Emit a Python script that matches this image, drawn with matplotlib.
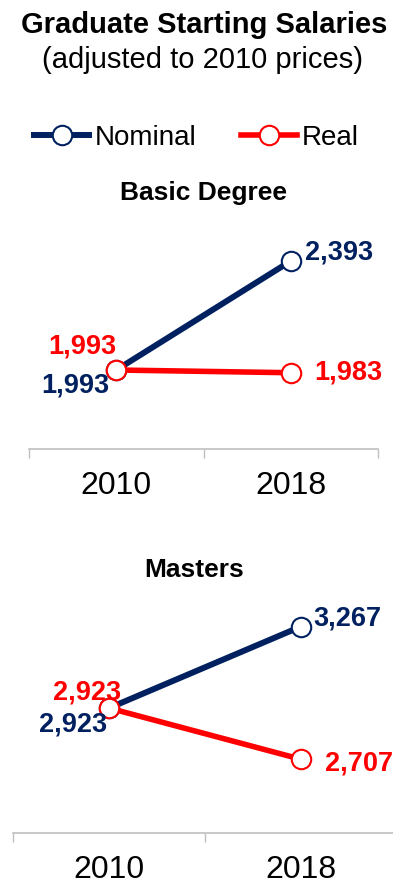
import matplotlib.pyplot as plt

plt.rcParams['font.family'] = ['Liberation Sans', 'DejaVu Sans']

years = ['2010', '2018']
basic_nominal = [1993, 2393]
basic_real = [1993, 1983]
masters_nominal = [2923, 3267]
masters_real = [2923, 2707]

navy = '#002060'
red = '#ff0000'
W, H = 393, 883

fig = plt.figure(figsize=(W / 100, H / 100), dpi=100)


def px_axes(left, top, width, bottom):
    return fig.add_axes([left / W, 1 - bottom / H, width / W, (bottom - top) / H])


def panel(ax, nominal, real, ylim, offsets):
    x = [0, 1]
    ax.plot(x, nominal, color=navy, lw=4.3, marker='o', ms=14, mfc='white',
            mec=navy, mew=1.5, solid_capstyle='butt', zorder=3)
    ax.plot(x, real, color=red, lw=4.0, marker='o', ms=14, mfc='white',
            mec=red, mew=1.5, solid_capstyle='butt', zorder=4)
    ax.set_xlim(-0.5, 1.5)
    ax.set_ylim(*ylim)
    # value labels (offsets in points)
    vals = [(0, nominal[0], navy), (1, nominal[1], navy), (0, real[0], red), (1, real[1], red)]
    for (xi, v, c), (dx, dy, ha) in zip(vals, offsets):
        ax.annotate(f'{v:,}', (xi, v), xytext=(dx, dy), textcoords='offset points',
                    ha=ha, va='center', color=c, fontsize=19.5, fontweight='bold', zorder=5)
    for s in ['top', 'left', 'right']:
        ax.spines[s].set_visible(False)
    ax.spines['bottom'].set_color('#bfbfbf')
    ax.spines['bottom'].set_linewidth(1.2)
    ax.set_yticks([])
    ax.set_xticks([-0.5, 0.5, 1.5])
    ax.set_xticklabels([])
    ax.tick_params(axis='x', which='major', length=6.5, width=1, color='#bfbfbf')
    ax.set_xticks([0, 1], minor=True)
    ax.set_xticklabels(years, minor=True, fontsize=23)
    ax.tick_params(axis='x', which='minor', length=0, pad=16)
    ax.patch.set_visible(False)


ax1 = px_axes(29, 215, 349, 449)
panel(ax1, basic_nominal, basic_real, (1703, 2562),
      [(-5, -11, 'right'), (10, 6, 'left'), (0, 17, 'right'), (17, 0, 'left')])

ax2 = px_axes(13, 595, 384, 833)
panel(ax2, masters_nominal, masters_real, (2396, 3400),
      [(-1, -12, 'right'), (9, 6, 'left'), (9, 11, 'right'), (17, -3, 'left')])

fig.text(204 / W, 1 - 25 / H, 'Graduate Starting Salaries', ha='center', va='center',
         fontsize=21, fontweight='bold')
fig.text(203 / W, 1 - 60 / H, '(adjusted to 2010 prices)', ha='center', va='center',
         fontsize=21)
fig.text(204 / W, 1 - 193 / H, 'Basic Degree', ha='center', va='center',
         fontsize=19, fontweight='bold')
fig.text(194 / W, 1 - 570 / H, 'Masters', ha='center', va='center',
         fontsize=19, fontweight='bold')

h1, = ax1.plot([], [], color=navy, lw=4.3, marker='o', ms=14, mfc='white', mec=navy, mew=1.5)
h2, = ax1.plot([], [], color=red, lw=4.0, marker='o', ms=14, mfc='white', mec=red, mew=1.5)
fig.legend([h1, h2], ['Nominal', 'Real'], loc='center', bbox_to_anchor=(0.5, 1 - 138 / H),
           ncol=2, frameon=False, fontsize=20, handlelength=2.0, handletextpad=0.2,
           columnspacing=1.6, borderaxespad=0)

fig.savefig('out.png', dpi=100)
